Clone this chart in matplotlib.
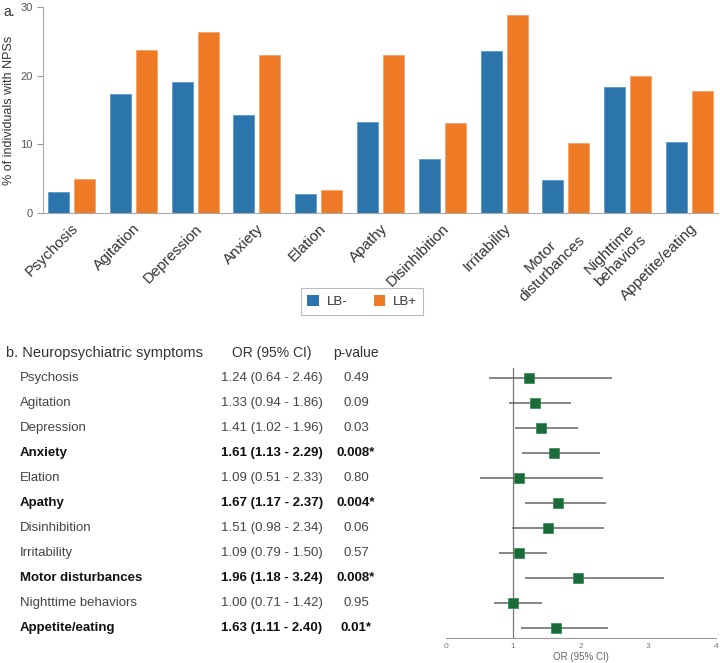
import matplotlib
matplotlib.use("Agg")
import matplotlib.pyplot as plt
from matplotlib.transforms import blended_transform_factory
from matplotlib.patches import Patch
import numpy as np

plt.rcParams['font.family'] = ['Liberation Sans', 'DejaVu Sans']

# panel a data
symptoms = ['Psychosis', 'Agitation', 'Depression', 'Anxiety', 'Elation', 'Apathy',
            'Disinhibition', 'Irritability', 'Motor\ndisturbances', 'Nighttime\nbehaviors',
            'Appetite/eating']
lb_neg = [3.0, 17.3, 19.1, 14.2, 2.8, 13.3, 7.8, 23.6, 4.8, 18.3, 10.4]
lb_pos = [4.9, 23.8, 26.3, 23.0, 3.4, 23.0, 13.1, 28.9, 10.2, 19.9, 17.7]

# panel b data
nps_names = ['Psychosis', 'Agitation', 'Depression', 'Anxiety', 'Elation', 'Apathy',
             'Disinhibition', 'Irritability', 'Motor disturbances', 'Nighttime behaviors',
             'Appetite/eating']
odds = [1.24, 1.33, 1.41, 1.61, 1.09, 1.67, 1.51, 1.09, 1.96, 1.00, 1.63]
ci_low = [0.64, 0.94, 1.02, 1.13, 0.51, 1.17, 0.98, 0.79, 1.18, 0.71, 1.11]
ci_high = [2.46, 1.86, 1.96, 2.29, 2.33, 2.37, 2.34, 1.50, 3.24, 1.42, 2.40]
p_values = ['0.49', '0.09', '0.03', '0.008*', '0.80', '0.004*', '0.06', '0.57', '0.008*', '0.95', '0.01*']
significant = [False, False, False, True, False, True, False, False, True, False, True]

blue = '#2b74ac'
orange = '#ee7a26'
green = '#1b6b38'
txt = '#333333'

fig = plt.figure(figsize=(7.2, 6.63), dpi=100)

# ---- panel a: bar chart
ax = fig.add_axes([43/720, 1-213/663, 675/720, 206/663])
x = np.arange(len(symptoms))
w = 0.34
ax.bar(x - 0.21, lb_neg, w, color=blue, edgecolor='#5a9ccc', linewidth=0.6)
ax.bar(x + 0.21, lb_pos, w, color=orange, edgecolor='#f4a36a', linewidth=0.6)
ax.set_xlim(-0.46, len(symptoms) - 0.54)
ax.set_ylim(0, 30)
ax.set_yticks([0, 10, 20, 30])
ax.tick_params(axis='y', labelsize=8, colors='#999999', labelcolor='#555555', length=4)
ax.tick_params(axis='x', length=0, pad=6)
ax.set_xticks(x)
ax.set_xticklabels(symptoms, rotation=45, ha='right', rotation_mode='anchor',
                   fontsize=11, color=txt, multialignment='center')
ax.set_ylabel('% of individuals with NPSs', fontsize=9, color=txt)
for s in ['top', 'right']:
    ax.spines[s].set_visible(False)
for s in ['left', 'bottom']:
    ax.spines[s].set_color('#aaaaaa')
fig.text(3/720, 1-12/663, 'a.', fontsize=10, color=txt, va='center')

handles = [Patch(facecolor=blue, label='LB-'), Patch(facecolor=orange, label='LB+')]
leg = fig.legend(handles=handles, loc='center', bbox_to_anchor=(362/720, 1-301.5/663), ncol=2,
                 fontsize=9.5, frameon=True, fancybox=False, edgecolor='#aaaaaa',
                 handlelength=0.9, handleheight=0.9, handletextpad=0.55,
                 columnspacing=2.0, borderpad=0.5)
leg.get_frame().set_linewidth(0.8)
for t in leg.get_texts():
    t.set_color(txt)

# ---- panel b: forest plot
fx = fig.add_axes([445.7/720, 1-637.7/663, 270/720, (637.7-360)/663])
rows = np.arange(len(nps_names))
fx.set_xlim(0, 4)
fx.set_ylim(10.40, -0.72)
fx.plot([1, 1], [-0.4, 10.4], color='#777777', lw=0.9)
fx.hlines(rows, ci_low, ci_high, color='#666666', lw=1.1)
fx.plot(odds, rows, 's', color=green, markersize=6.5, markeredgecolor='#2f8a4f', markeredgewidth=0.5)
fx.set_xticks([0, 1, 2, 3, 4])
fx.set_yticks([])
fx.tick_params(axis='x', length=0, labelsize=6, labelcolor='#777777', pad=4)
fx.set_xlabel('OR (95% CI)', fontsize=7, color='#666666', labelpad=1)
for s in ['top', 'right', 'left']:
    fx.spines[s].set_visible(False)
fx.spines['bottom'].set_color('#999999')

tr = blended_transform_factory(fig.transFigure, fx.transData)
fx.text(6/720, -1, 'b. Neuropsychiatric symptoms', transform=tr, fontsize=10.5,
        color=txt, va='center', clip_on=False)
fx.text(272/720, -1, 'OR (95% CI)', transform=tr, fontsize=10, color=txt,
        ha='center', va='center', clip_on=False)
fx.text(356/720, -1, 'p-value', transform=tr, fontsize=10, color=txt,
        ha='center', va='center', clip_on=False)
for i in range(len(nps_names)):
    wt = 'bold' if significant[i] else 'normal'
    col = '#111111' if significant[i] else '#444444'
    fx.text(20/720, i, nps_names[i], transform=tr, fontsize=9.5, color=col,
            fontweight=wt, va='center', clip_on=False)
    fx.text(272/720, i, f'{odds[i]:.2f} ({ci_low[i]:.2f} - {ci_high[i]:.2f})', transform=tr,
            fontsize=9.5, color=col, fontweight=wt, ha='center', va='center', clip_on=False)
    fx.text(356/720, i, p_values[i], transform=tr, fontsize=9.5, color=col,
            fontweight=wt, ha='center', va='center', clip_on=False)

fig.savefig('out.png', dpi=100)
